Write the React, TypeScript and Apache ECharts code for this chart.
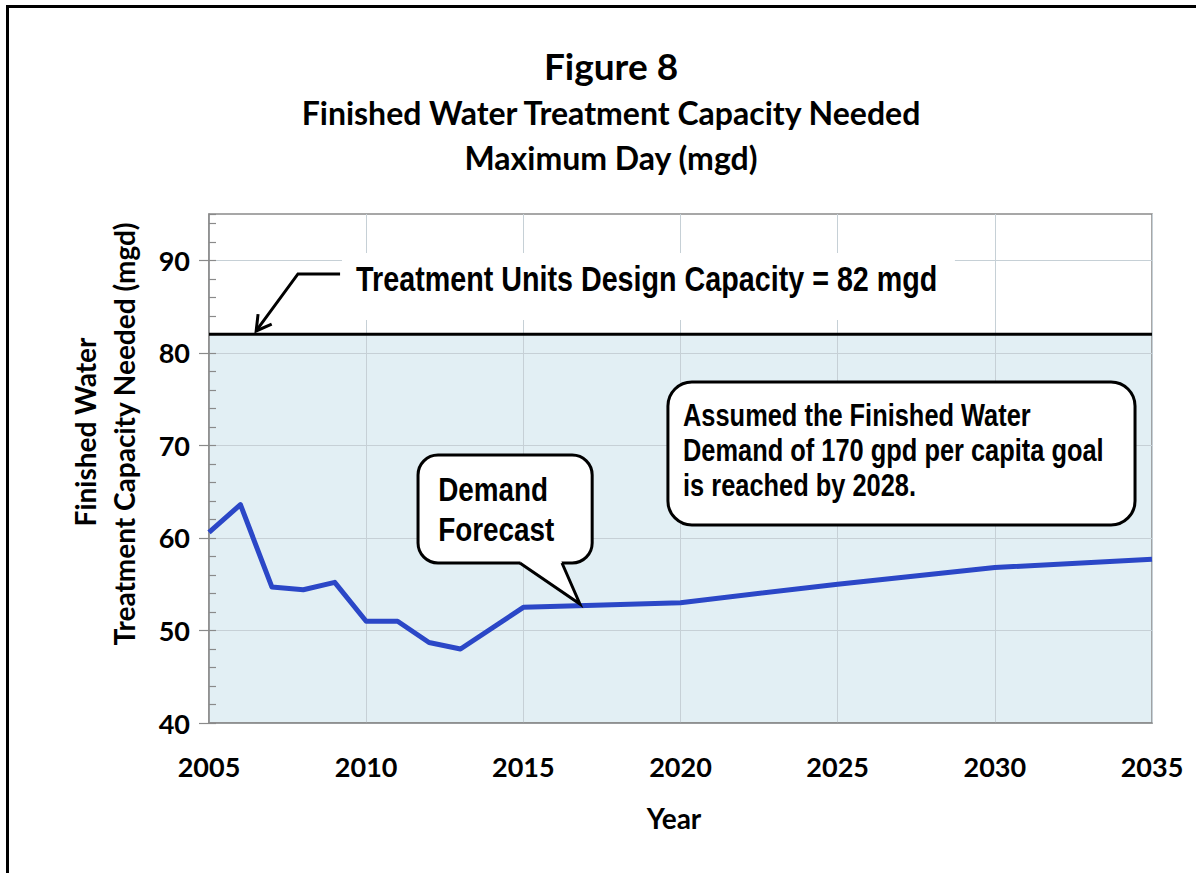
import React, { useEffect, useRef } from "react";
import * as echarts from "echarts";

// ---- data ----
const years = [2005, 2006, 2007, 2008, 2009, 2010, 2011, 2012, 2013, 2015, 2017, 2020, 2025, 2030, 2035];
const demand = [60.6, 63.6, 54.7, 54.4, 55.2, 51.0, 51.0, 48.7, 48.0, 52.5, 52.7, 53.0, 55.0, 56.8, 57.7];
const capacityYears = [2005, 2035];
const designCapacity = 82;
const yMajorTicks = [40, 50, 60, 70, 80, 90];

// ---- texts ----
const titleLines = ["Figure 8", "Finished Water Treatment Capacity Needed", "Maximum Day (mgd)"];
const yTitleLines = ["Finished Water", "Treatment Capacity Needed (mgd)"];
const xTitle = "Year";
const capacityLabel = "Treatment Units Design Capacity = 82 mgd";
const forecastLabel = ["Demand", "Forecast"];
const goalLabel = ["Assumed the Finished Water", "Demand of 170 gpd per capita goal", "is reached by 2028."];

const FONT = "Lato, 'Open Sans', sans-serif";
const NARROW = "'Liberation Sans', Arial, sans-serif";
const NARROW_SCALE = 0.82;
const GRAY = "#8a8a8a";
const GRID = "#c6d0d6";

export default function App() {
  const ref = useRef<HTMLDivElement>(null);

  useEffect(() => {
    document.body.style.margin = "0";
    const chart = echarts.init(ref.current as HTMLDivElement, null, { renderer: "svg" });

    chart.setOption({
      animation: false,
      backgroundColor: "#ffffff",
      grid: {
        left: 209,
        right: 44,
        top: 214,
        bottom: 150,
        show: true,
        borderColor: GRAY,
        borderWidth: 1.5,
        backgroundColor: "transparent",
      },
      xAxis: {
        type: "value",
        min: 2005,
        max: 2035,
        interval: 5,
        axisLine: { show: true, lineStyle: { color: GRAY, width: 1.5 } },
        axisTick: { show: false },
        axisLabel: {
          formatter: (v: number) => String(v),
          fontFamily: FONT,
          fontWeight: "bold",
          fontSize: 27,
          color: "#000",
          margin: 30,
        },
        splitLine: { show: true, lineStyle: { color: GRID, width: 1 } },
      },
      yAxis: [
        {
          type: "value",
          position: "left",
          min: 40,
          max: 95,
          interval: 10,
          axisLine: { show: true, lineStyle: { color: GRAY, width: 1.5 } },
          axisTick: { show: true, length: 10, customValues: yMajorTicks, lineStyle: { color: GRAY, width: 1.2 } },
          axisLabel: {
            formatter: (v: number) => (yMajorTicks.indexOf(v) >= 0 ? String(v) : ""),
            fontFamily: FONT,
            fontWeight: "bold",
            fontSize: 27,
            color: "#000",
            margin: 19,
          },
          splitLine: { show: true, lineStyle: { color: GRID, width: 1 } },
        },
        {
          type: "value",
          position: "left",
          min: 40,
          max: 95,
          interval: 2,
          axisLine: { show: false },
          axisTick: { show: true, inside: true, length: 7, lineStyle: { color: GRAY, width: 1.2 } },
          axisLabel: { show: false },
          splitLine: { show: false },
        },
      ],
      series: [
        {
          name: "capacity area",
          type: "line",
          data: capacityYears.map((y) => [y, designCapacity]),
          symbol: "none",
          lineStyle: { width: 0, opacity: 0 },
          areaStyle: { color: "#e2eff4", opacity: 1, origin: "start" },
          z: -1,
          silent: true,
        },
        {
          name: "Treatment Units Design Capacity",
          type: "line",
          data: capacityYears.map((y) => [y, designCapacity]),
          symbol: "none",
          lineStyle: { color: "#000", width: 3 },
          z: 3,
          silent: true,
        },
        {
          name: "Demand Forecast",
          type: "line",
          data: years.map((y, i) => [y, demand[i]]),
          symbol: "none",
          lineStyle: { color: "#2b47c7", width: 5, join: "round" },
          z: 4,
          silent: true,
        },
      ],
    });

    const P = (d: number[]) => chart.convertToPixel({ xAxisIndex: 0, yAxisIndex: 0 }, d) as number[];

    // arrow to capacity line
    const aStart = P([2009.17, 88.52]);
    const aBend = P([2007.83, 88.52]);
    const aTip = P([2006.5, 82.36]);
    const ux = aBend[0] - aTip[0];
    const uy = aBend[1] - aTip[1];
    const ul = Math.hypot(ux, uy);
    const ang = Math.atan2(uy / ul, ux / ul);
    const barb = (da: number) => [aTip[0] + 17 * Math.cos(ang + da), aTip[1] + 17 * Math.sin(ang + da)];

    const lblPos = P([2009.68, 87.98]);
    const bgA = P([2009.23, 90.79]);
    const bgB = P([2028.73, 83.55]);

    // callout 1
    const c1a = P([2011.65, 68.96]);
    const c1b = P([2017.19, 57.29]);
    const t1a = P([2014.89, 57.29]);
    const t1b = P([2016.23, 57.29]);
    const tip1 = P([2016.8, 52.86]);
    const c1t = P([2012.29, 63.12]);

    // callout 2
    const c2a = P([2019.6, 76.85]);
    const c2b = P([2034.46, 61.4]);
    const c2t = P([2020.08, 69.5]);

    const txt = (x: number, y: number, text: string, font: string, align = "center", extra: any = {}) => ({
      type: "text",
      x,
      y,
      z: 20,
      silent: true,
      ...extra,
      style: { text, font, fill: "#000", textAlign: align, textVerticalAlign: "middle", ...(extra.style || {}) },
    });

    chart.setOption({
      graphic: {
        elements: [
          {
            type: "rect",
            z: 30,
            silent: true,
            shape: { x: 7.5, y: 6.5, width: 1400, height: 1200 },
            style: { fill: "transparent", stroke: "#000", lineWidth: 3 },
          },
          txt(611, 65, titleLines[0], `bold 37px ${FONT}`),
          txt(611, 112, titleLines[1], `bold 32px ${FONT}`),
          txt(611, 157, titleLines[2], `bold 32px ${FONT}`),
          txt(85, 432, yTitleLines[0], `bold 28px ${FONT}`, "center", { rotation: Math.PI / 2 }),
          txt(124, 434, yTitleLines[1], `bold 28px ${FONT}`, "center", { rotation: Math.PI / 2 }),
          txt(674, 818, xTitle, `bold 28px ${FONT}`),
          // label background + label
          {
            type: "rect",
            z: 15,
            silent: true,
            shape: { x: bgA[0], y: bgA[1], width: bgB[0] - bgA[0], height: bgB[1] - bgA[1] },
            style: { fill: "#ffffff" },
          },
          txt(lblPos[0], lblPos[1], capacityLabel, `bold 35px ${NARROW}`, "left", { scaleX: NARROW_SCALE }),
          {
            type: "polyline",
            z: 20,
            silent: true,
            shape: { points: [aStart, aBend, aTip] },
            style: { stroke: "#000", lineWidth: 3, fill: null },
          },
          {
            type: "polyline",
            z: 20,
            silent: true,
            shape: { points: [barb(-0.52), aTip, barb(0.52)] },
            style: { stroke: "#000", lineWidth: 3, fill: null },
          },
          // callout 1
          {
            type: "rect",
            z: 20,
            silent: true,
            shape: { x: c1a[0], y: c1a[1], width: c1b[0] - c1a[0], height: c1b[1] - c1a[1], r: 20 },
            style: { fill: "#ffffff", stroke: "#000", lineWidth: 3 },
          },
          {
            type: "polygon",
            z: 21,
            silent: true,
            shape: {
              points: [
                [t1a[0] + 1, t1a[1] - 3],
                [t1a[0], t1a[1]],
                tip1,
                [t1b[0], t1b[1]],
                [t1b[0] - 1, t1b[1] - 3],
              ],
            },
            style: { fill: "#ffffff" },
          },
          {
            type: "polyline",
            z: 22,
            silent: true,
            shape: { points: [t1a, tip1, t1b] },
            style: { stroke: "#000", lineWidth: 3, fill: null, lineJoin: "miter" },
          },
          txt(c1t[0], c1t[1], forecastLabel.join("\n"), `bold 34px ${NARROW}`, "left", {
            z: 23,
            scaleX: NARROW_SCALE,
            style: { lineHeight: 40 },
          }),
          // callout 2
          {
            type: "rect",
            z: 20,
            silent: true,
            shape: { x: c2a[0], y: c2a[1], width: c2b[0] - c2a[0], height: c2b[1] - c2a[1], r: 24 },
            style: { fill: "#ffffff", stroke: "#000", lineWidth: 3 },
          },
          txt(c2t[0], c2t[1], goalLabel.join("\n"), `bold 31px ${NARROW}`, "left", {
            z: 23,
            scaleX: NARROW_SCALE,
            style: { lineHeight: 35 },
          }),
        ],
      },
    });

    return () => chart.dispose();
  }, []);

  return <div ref={ref} style={{ width: 1196, height: 873 }} />;
}
